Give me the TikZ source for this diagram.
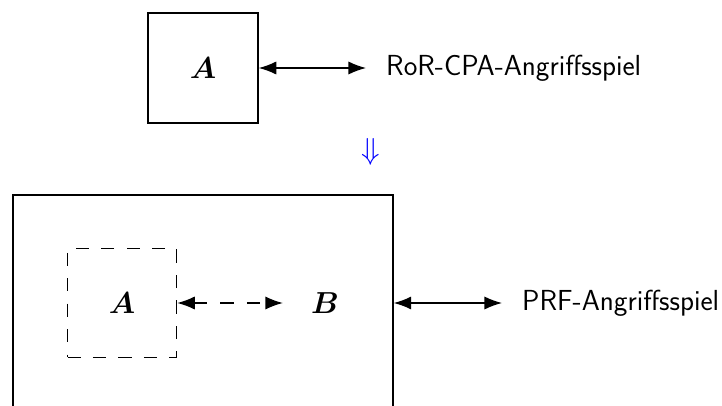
\documentclass[tikz,border=0pt]{standalone}
\usepackage{amsmath,amssymb,bm}
\usetikzlibrary{arrows.meta,positioning}

\begin{document}
\begin{tikzpicture}[
    x=0.02cm, y=0.02cm,
    font=\fontsize{17}{20}\selectfont,
    box/.style={draw, line width=0.8pt, minimum width=2.2cm, minimum height=2.2cm},
    dbox/.style={box, dash pattern=on 7.5pt off 7pt, minimum width=2.18cm, minimum height=2.18cm},
    game/.style={font=\fontsize{16.5}{20}\selectfont\sffamily, anchor=west},
    arr/.style={{Latex[length=10pt,width=7.5pt]}-{Latex[length=10pt,width=7.5pt]}, line width=0.8pt, shorten >=0.28cm}
  ]
    \useasboundingbox (0,0) rectangle (722,-405);
    \clip (0,0) rectangle (722,-405);
    \node[box] (advA) at (203,-68) {$\boldsymbol{A}$};
    \node[game] (ror) at (380,-68) {RoR-CPA-Angriffsspiel};
    \node[text=blue] (impl) at (371,-152) {$\Downarrow$};
    \node[box, minimum width=7.6cm, minimum height=4.32cm] (red) at (203,-303) {};
    \node[dbox] (innA) at (122,-303) {$\boldsymbol{A}$};
    \node (advB) at (325,-303) {$\boldsymbol{B}$};
    \node[game] (prf) at (516,-303) {PRF-Angriffsspiel};
    \draw[arr] (advA) -- (ror);
    \draw[arr, dash pattern=on 7.5pt off 7.5pt, shorten >=0.44cm] (innA) -- (advB);
    \draw[arr] (red) -- (prf);
\end{tikzpicture}
\end{document}
